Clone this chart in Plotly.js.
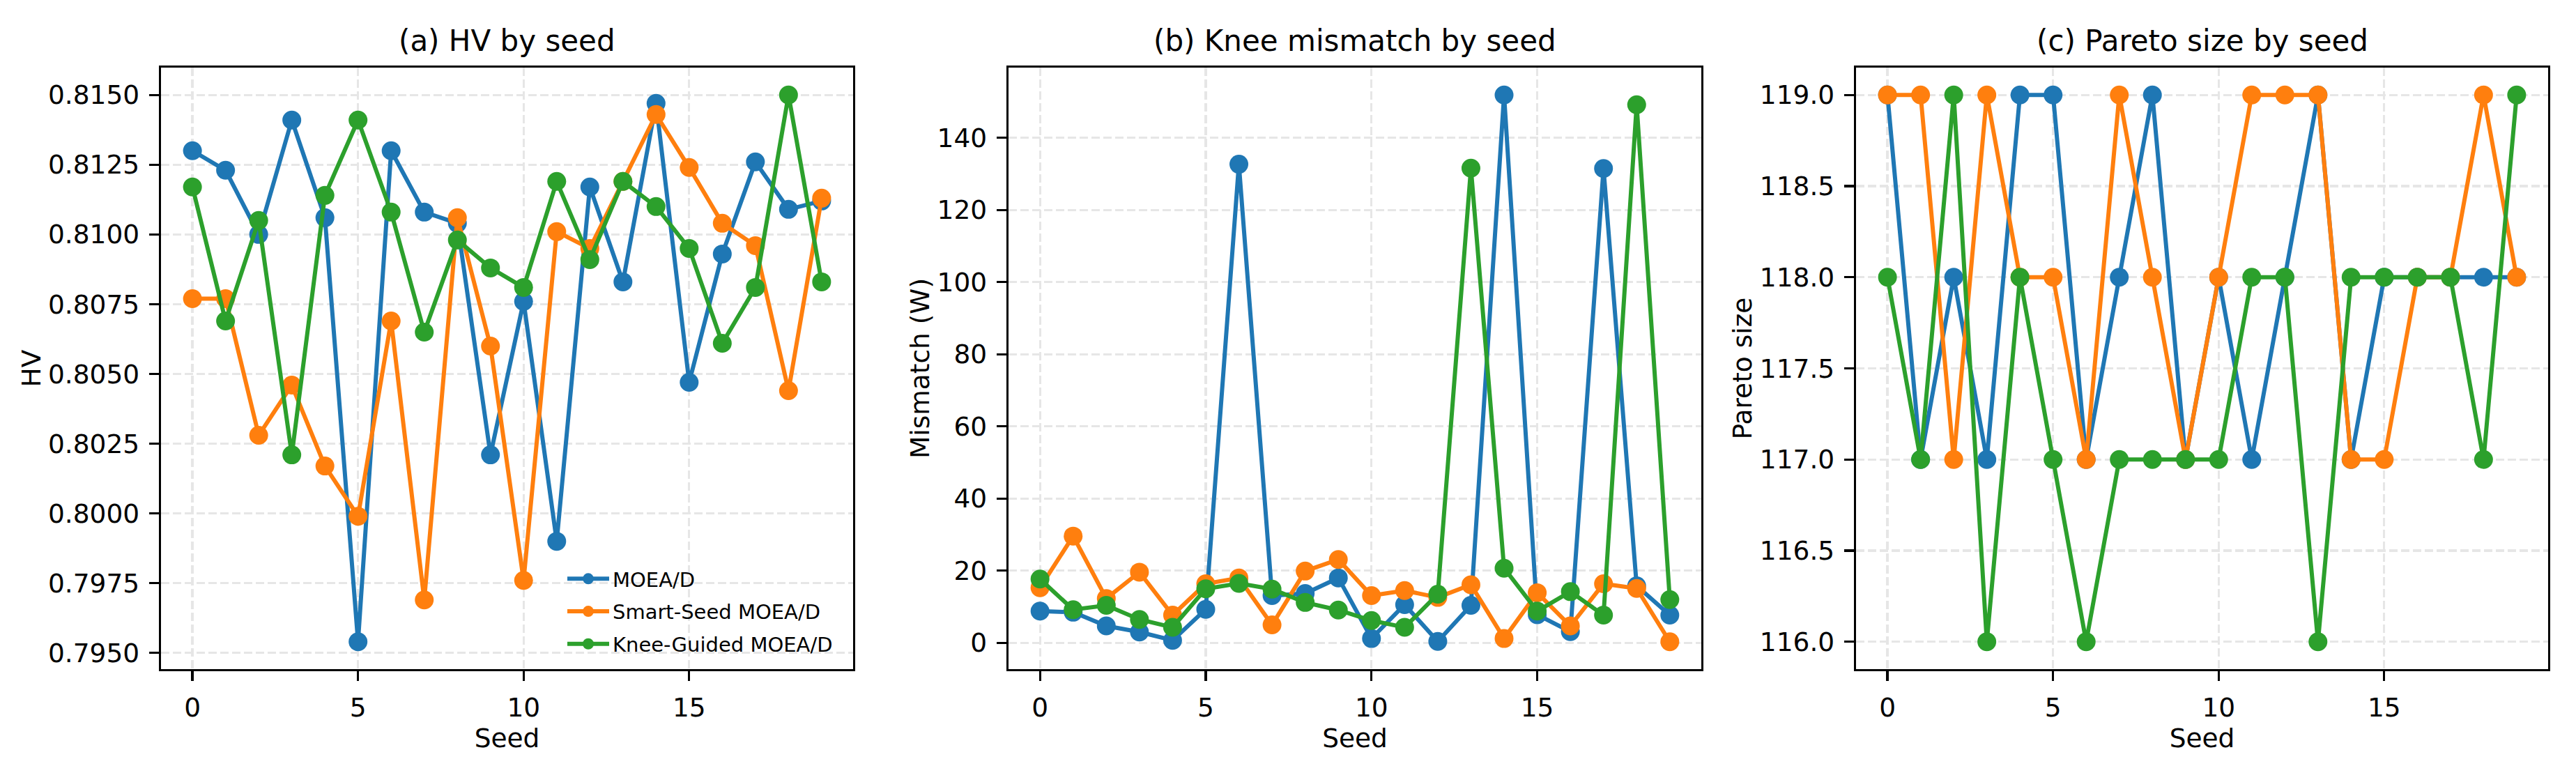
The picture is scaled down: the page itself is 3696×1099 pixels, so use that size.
<!DOCTYPE html>
<html>
<head>
<meta charset="utf-8">
<script src="https://cdn.plot.ly/plotly-3.0.1.min.js"></script>
<style>html,body{margin:0;padding:0;background:#fff;}#chart{width:3696px;height:1099px;}</style>
</head>
<body>
<div id="chart"></div>
<script>
// ---- data ----
const seeds = [0,1,2,3,4,5,6,7,8,9,10,11,12,13,14,15,16,17,18,19];
const seriesNames = ["MOEA/D", "Smart-Seed MOEA/D", "Knee-Guided MOEA/D"];

const hvMoead = [0.8130,0.8123,0.8100,0.8141,0.8106,0.7954,0.8130,0.8108,0.8104,0.8021,0.8076,0.7990,0.8117,0.8083,0.8147,0.8047,0.8093,0.8126,0.8109,0.8112];
const hvSmart = [0.8077,0.8077,0.8028,0.8046,0.8017,0.7999,0.8069,0.7969,0.8106,0.8060,0.7976,0.8101,0.8095,0.8119,0.8143,0.8124,0.8104,0.8096,0.8044,0.8113];
const hvKnee  = [0.8117,0.8069,0.8105,0.8021,0.8114,0.8141,0.8108,0.8065,0.8098,0.8088,0.8081,0.8119,0.8091,0.8119,0.8110,0.8095,0.8061,0.8081,0.8150,0.8083];

const mmMoead = [8.8,8.5,4.7,3.0,0.7,9.3,132.7,13.1,13.7,18.0,1.2,10.6,0.4,10.4,151.9,7.8,3.1,131.5,15.8,7.7];
const mmSmart = [15.3,29.6,12.3,19.6,7.7,16.4,18.0,5.0,19.9,23.1,13.1,14.5,12.6,16.1,1.2,13.9,4.7,16.4,15.1,0.3];
const mmKnee  = [17.7,9.2,10.4,6.5,4.3,15.0,16.5,14.9,11.2,9.1,6.2,4.3,13.5,131.6,20.7,8.8,14.2,7.7,149.2,12.0];

const psMoead = [119,117,118,117,119,119,117,118,119,117,118,117,118,119,117,118,118,118,118,118];
const psSmart = [119,119,117,119,118,118,117,119,118,117,118,119,119,119,117,117,118,118,119,118];
const psKnee  = [118,117,119,116,118,117,116,117,117,117,117,118,118,116,118,118,118,118,117,119];

const panelTitles = ["(a) HV by seed", "(b) Knee mismatch by seed", "(c) Pareto size by seed"];
const yTitles = ["HV", "Mismatch (W)", "Pareto size"];
const xTitle = "Seed";

// ---- styling ----
const colors = ["#1f77b4", "#ff7f0e", "#2ca02c"];
const FONT = "DejaVu Sans, sans-serif";
const panels = [
  {data:[hvMoead,hvSmart,hvKnee], dtick:0.0025, fmt:".4f"},
  {data:[mmMoead,mmSmart,mmKnee], dtick:20, fmt:"d"},
  {data:[psMoead,psSmart,psKnee], dtick:0.5, fmt:".1f"}
];

function padRange(arrs){
  let mn = Infinity, mx = -Infinity;
  arrs.forEach(a => a.forEach(v => { if (v<mn) mn=v; if (v>mx) mx=v; }));
  const p = (mx-mn)*0.05;
  return [mn-p, mx+p];
}

const traces = [];
panels.forEach((p, i) => {
  const ax = i === 0 ? "" : String(i+1);
  p.data.forEach((ys, k) => {
    traces.push({
      type: "scatter", mode: "lines+markers",
      x: seeds, y: ys, name: seriesNames[k],
      legendgroup: "g"+k,
      xaxis: "x"+ax, yaxis: "y"+ax,
      line: {color: colors[k], width: 6},
      marker: {color: colors[k], size: 27},
      showlegend: i === 0,
      cliponaxis: false
    });
  });
});

const W = 3696, H = 1099;
const L = 231, R = 40, T = 97, B = 139;
const plotW = W - L - R;
const frames = [[231,1224],[1447,2441],[2663,3656]];

function xAxis(i){
  return {
    domain: [(frames[i][0]-L)/plotW, (frames[i][1]-L)/plotW],
    anchor: i===0 ? "y" : "y"+(i+1),
    range: padRange([seeds]),
    tickmode: "linear", tick0: 0, dtick: 5,
    ticks: "outside", ticklen: 14, tickwidth: 3.3, tickcolor: "#000",
    showline: true, linecolor: "#000", linewidth: 3.3, mirror: true,
    showgrid: true, gridcolor: "#e6e6e6", gridwidth: 3.3, griddash: "12px,5px",
    zeroline: false,
    tickfont: {family: FONT, size: 37.5, color: "#000"},
    ticklabelstandoff: 6,
    title: {text: xTitle, font: {family: FONT, size: 37.5, color: "#000"}, standoff: 0},
    automargin: false
  };
}
function yAxis(i){
  return {
    domain: [0, 1],
    anchor: i===0 ? "x" : "x"+(i+1),
    range: padRange(panels[i].data),
    tickmode: "linear", tick0: 0, dtick: panels[i].dtick, tickformat: panels[i].fmt,
    ticks: "outside", ticklen: 14, tickwidth: 3.3, tickcolor: "#000",
    showline: true, linecolor: "#000", linewidth: 3.3, mirror: true,
    showgrid: true, gridcolor: "#e6e6e6", gridwidth: 3.3, griddash: "12px,5px",
    zeroline: false,
    tickfont: {family: FONT, size: 37.5, color: "#000"},
    ticklabelstandoff: 6,
    title: {text: yTitles[i], font: {family: FONT, size: 37.5, color: "#000"}, standoff: 0},
    automargin: false
  };
}

const annotations = panelTitles.map((t, i) => ({
  text: t, showarrow: false,
  xref: "paper", yref: "paper",
  x: ((frames[i][0]+frames[i][1])/2 - L)/plotW,
  y: 1 + 38/(H-T-B), yanchor: "middle", xanchor: "center",
  font: {family: FONT, size: 42, color: "#000"}
}));

const layout = {
  width: W, height: H,
  margin: {l: L, r: R, t: T, b: B, pad: 0},
  paper_bgcolor: "#fff", plot_bgcolor: "#fff",
  font: {family: FONT, color: "#000"},
  showlegend: true,
  legend: {
    x: (809-L)/plotW, xanchor: "left",
    y: (H-B-950)/(H-T-B) , yanchor: "bottom",
    bgcolor: "rgba(255,255,255,0)", borderwidth: 0,
    font: {family: FONT, size: 29, color: "#000"},
    itemwidth: 60,
    tracegroupgap: 6
  },
  annotations: annotations,
  xaxis: xAxis(0), yaxis: yAxis(0),
  xaxis2: xAxis(1), yaxis2: yAxis(1),
  xaxis3: xAxis(2), yaxis3: yAxis(2)
};

Plotly.newPlot("chart", traces, layout, {staticPlot: true, displayModeBar: false});
</script>
</body>
</html>
